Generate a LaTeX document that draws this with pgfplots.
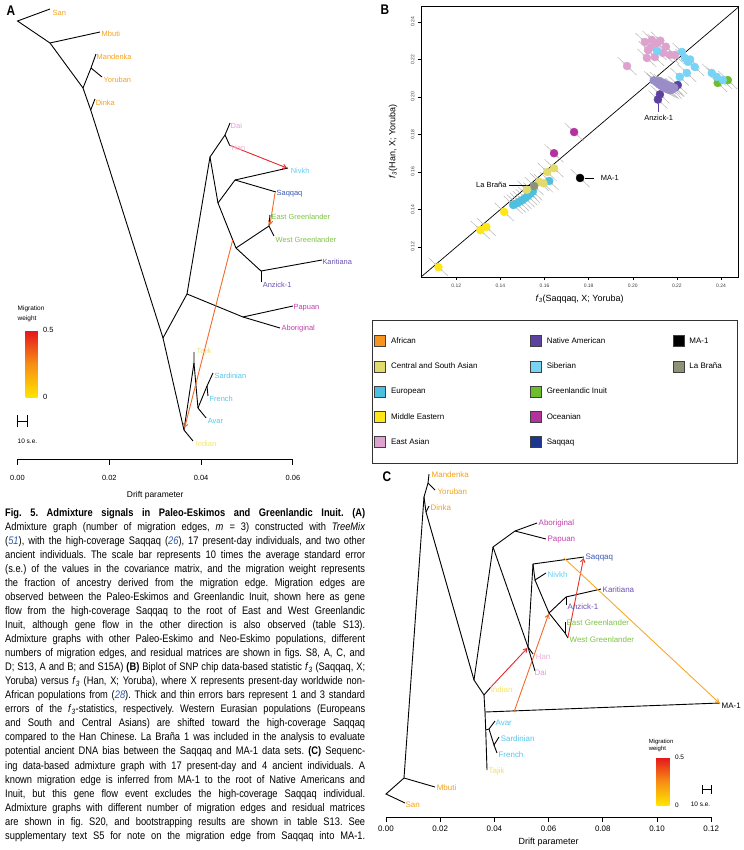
\documentclass[border=0pt]{standalone}
\usepackage{fontspec}
\setmainfont{Liberation Sans}
\newfontfamily\capfont{Liberation Sans}[FakeStretch=0.85]
\usepackage{pgfplots}
\pgfplotsset{compat=1.18}
\usepackage{pgfplotstable}
\usetikzlibrary{arrows.meta}

\definecolor{cAfr}{HTML}{F7941D}
\definecolor{cCSA}{HTML}{E1DB6B}
\definecolor{cEur}{HTML}{4CC0DE}
\definecolor{cME}{HTML}{FFE617}
\definecolor{cEA}{HTML}{DDA3CE}
\definecolor{cNA}{HTML}{5D41A0}
\definecolor{cNAL}{HTML}{9A8CC6}
\definecolor{cSib}{HTML}{79D3F5}
\definecolor{cGI}{HTML}{6DBE2D}
\definecolor{cOce}{HTML}{B3339E}
\definecolor{cSaq}{HTML}{1B3590}
\definecolor{cLB}{HTML}{8C9377}
\definecolor{tAfr}{HTML}{F7A11A}
\definecolor{tDai}{HTML}{DDA0D6}
\definecolor{tHan}{HTML}{F0B2DA}
\definecolor{tSib}{HTML}{6ACCF0}
\definecolor{tSaq}{HTML}{3B58B2}
\definecolor{tGI}{HTML}{7DC242}
\definecolor{tNA}{HTML}{6B52B0}
\definecolor{tOce}{HTML}{C23FAA}
\definecolor{tCSA}{HTML}{EADF78}
\definecolor{tInd}{HTML}{F2E46A}
\definecolor{tEur}{HTML}{55C6EC}
\definecolor{refblue}{HTML}{2B5BA8}
\definecolor{mRed}{HTML}{E4262A}
\definecolor{mOr}{HTML}{F26A2A}
\definecolor{mYe}{HTML}{F5AA2D}

\newcommand\labA{\fontsize{7.5}{8}\selectfont}
\newcommand\labC{\fontsize{8}{9}\selectfont}

\pgfplotsset{
  tedge/.style={black, line width=0.9bp, forget plot, mark=none},
  mig/.style={line width=0.9bp, forget plot, mark=none, -{Straight Barb[length=3.5bp,width=4.5bp]}},
  sq/.style={legend image code/.code={\draw[fill=#1,draw=black!75,line width=0.7bp] (0bp,-5.5bp) rectangle (11bp,5.5bp);}},
  nf/.style={/pgf/number format/fixed, /pgf/number format/fixed zerofill, /pgf/number format/precision=2, /pgf/number format/assume math mode=true},
}

\pgfplotstableread{
x y c
0.1119 0.1093 me
0.1309 0.1290 me
0.1336 0.1307 me
0.1417 0.1387 me
0.1458 0.1424 eur
0.1472 0.1432 eur
0.1486 0.1441 eur
0.1499 0.1450 eur
0.1512 0.1461 eur
0.1524 0.1472 eur
0.1536 0.1484 eur
0.1547 0.1496 eur
0.1621 0.1552 eur
0.1520 0.1505 csa
0.1576 0.1547 csa
0.1595 0.1540 csa
0.1612 0.1600 csa
0.1643 0.1620 csa
0.1553 0.1525 lb
0.1643 0.1700 oce
0.1734 0.1813 oce
0.1761 0.1568 ma
0.1974 0.2165 ea
0.2055 0.2293 ea
0.2087 0.2304 ea
0.2110 0.2288 ea
0.2125 0.2300 ea
0.2069 0.2250 ea
0.2064 0.2208 ea
0.2100 0.2213 ea
0.2137 0.2235 ea
0.2168 0.2224 ea
0.2191 0.2224 ea
0.2085 0.2265 ea
0.2150 0.2268 ea
0.2110 0.2245 sib
0.2385 0.2075 gi
0.2431 0.2090 gi
0.2223 0.2240 sib
0.2236 0.2208 sib
0.2250 0.2187 sib
0.2281 0.2160 sib
0.2260 0.2200 sib
0.2245 0.2128 sib
0.2213 0.2107 sib
0.2358 0.2128 sib
0.2381 0.2107 sib
0.2408 0.2090 sib
0.2204 0.2064 na
0.2192 0.2052 na
0.2123 0.2014 na
0.2114 0.1986 na
0.2095 0.2088 nal
0.2108 0.2078 nal
0.2118 0.2068 nal
0.2128 0.2060 nal
0.2138 0.2052 nal
0.2148 0.2046 nal
0.2158 0.2041 nal
0.2168 0.2036 nal
0.2178 0.2040 nal
0.2120 0.2085 nal
0.2138 0.2075 nal
0.2155 0.2065 nal
0.2172 0.2058 nal
0.2188 0.2050 nal
}\dataB

\begin{document}
\frenchspacing
\begin{tikzpicture}
\path[use as bounding box] (0,0) rectangle (744bp,-850bp);

%================ Panel A =================
\begin{axis}[
  name=A, at={(17.5bp,-459bp)}, anchor=south west,
  scale only axis, width=275.4bp, height=454bp,
  xmin=0, xmax=0.06, ymin=-459, ymax=-5,
  axis y line=none, axis x line*=bottom, clip=false,
  xtick={0,0.02,0.04,0.06}, scaled x ticks=false,
  tick align=outside, major tick length=5.5bp,
  xticklabel style={font=\fontsize{7.5}{8}\selectfont, nf, yshift=-7bp},
  xlabel={Drift parameter}, xlabel style={font=\fontsize{8.5}{9}\selectfont, yshift=-4bp},
  axis line style={line width=0.8bp}, tick style={line width=0.8bp, black},
  colormap={mig}{rgb255=(255,228,0) rgb255=(247,140,20) rgb255=(228,20,28)},
  colorbar, point meta min=0, point meta max=0.5,
  colorbar style={at={(parent axis.south west)}, anchor=north west, xshift=-0.5bp, yshift=129bp,
    width=12bp, height=67bp, scale only axis, ytick={0,0.5}, yticklabels={0,0.5},
    major tick length=0pt, axis line style={draw=none},
    yticklabel style={font=\fontsize{7.5}{8}\selectfont, xshift=2bp}},
]
\addplot[tedge] coordinates {(0.00708,-9) (0,-21) (0.00708,-43) (0.01797,-32)};
\addplot[tedge] coordinates {(0.00708,-43) (0.01427,-88)};
\addplot[tedge] coordinates {(0.01427,-88) (0.01601,-68) (0.0171,-54)};
\addplot[tedge] coordinates {(0.01601,-68) (0.01841,-77)};
\addplot[tedge] coordinates {(0.01427,-88) (0.01595,-110) (0.0317,-338)};
\addplot[tedge] coordinates {(0.01595,-110) (0.01688,-99)};
\addplot[tedge] coordinates {(0.0317,-338) (0.03693,-294) (0.04194,-157)};
\addplot[tedge] coordinates {(0.04194,-157) (0.04521,-135) (0.0463,-123)};
\addplot[tedge] coordinates {(0.04521,-135) (0.0463,-146)};
\addplot[tedge] coordinates {(0.04194,-157) (0.04368,-203) (0.0476,-248)};
\addplot[tedge] coordinates {(0.04368,-203) (0.04739,-180) (0.05893,-168)};
\addplot[tedge] coordinates {(0.04739,-180) (0.05632,-192)};
\addplot[tedge] coordinates {(0.0476,-248) (0.05479,-226) (0.055,-215)};
\addplot[tedge] coordinates {(0.05479,-226) (0.05588,-236)};
\addplot[tedge] coordinates {(0.0476,-248) (0.05305,-271) (0.06634,-260)};
\addplot[tedge] coordinates {(0.05305,-271) (0.05305,-282)};
\addplot[tedge] coordinates {(0.03693,-294) (0.04913,-317) (0.06002,-306)};
\addplot[tedge] coordinates {(0.04913,-317) (0.05719,-328)};
\addplot[tedge] coordinates {(0.0317,-338) (0.03627,-430) (0.03824,-441)};
\addplot[tedge] coordinates {(0.03627,-430) (0.03845,-363) (0.03845,-352)};
\addplot[tedge] coordinates {(0.03845,-363) (0.03932,-408) (0.0411,-418)};
\addplot[tedge] coordinates {(0.03932,-408) (0.04129,-386) (0.04259,-373)};
\addplot[tedge] coordinates {(0.04129,-386) (0.0415,-396)};
% migration edges
\addplot[mig, mRed] coordinates {(0.04608,-145) (0.05871,-168)};
\addplot[mig, mOr] coordinates {(0.05610,-193) (0.05501,-225)};
\addplot[mig, mOr] coordinates {(0.04688,-240) (0.03640,-428)};
% labels
\begin{scope}[every node/.style={anchor=west, inner sep=0.5bp, font=\labA}]
\node[text=tAfr] at (axis cs:0.0075,-13) {San};
\node[text=tAfr] at (axis cs:0.0182,-34) {Mbuti};
\node[text=tAfr] at (axis cs:0.0171,-57) {Mandenka};
\node[text=tAfr] at (axis cs:0.0186,-80) {Yoruban};
\node[text=tAfr] at (axis cs:0.0169,-103) {Dinka};
\node[text=tDai] at (axis cs:0.0463,-126) {Dai};
\node[text=tHan] at (axis cs:0.0465,-148) {Han};
\node[text=tSib] at (axis cs:0.0594,-171) {Nivkh};
\node[text=tSaq] at (axis cs:0.0563,-194) {Saqqaq};
\node[text=tGI] at (axis cs:0.0552,-217) {East Greenlander};
\node[text=tGI] at (axis cs:0.0561,-240) {West Greenlander};
\node[text=tNA] at (axis cs:0.0663,-262) {Karitiana};
\node[text=tNA] at (axis cs:0.0533,-285) {Anzick-1};
\node[text=tOce] at (axis cs:0.0600,-308) {Papuan};
\node[text=tOce] at (axis cs:0.0574,-329) {Aboriginal};
\node[text=tCSA] at (axis cs:0.0389,-352) {Tajik};
\node[text=tEur] at (axis cs:0.0428,-376) {Sardinian};
\node[text=tEur] at (axis cs:0.0417,-399) {French};
\node[text=tEur] at (axis cs:0.0413,-421) {Avar};
\node[text=tInd] at (axis cs:0.0387,-444) {Indian};
\node[font=\fontsize{6.5}{7}\selectfont] at (axis cs:-0.0001,-309) {Migration};
\node[font=\fontsize{6.5}{7}\selectfont] at (axis cs:-0.0001,-319) {weight};
\node[font=\fontsize{6.5}{7}\selectfont] at (axis cs:-0.0001,-441) {10 s.e.};
\end{scope}
\draw[line width=0.8bp] (axis cs:0,-415)--(axis cs:0,-427) (axis cs:0.0021,-415)--(axis cs:0.0021,-427) (axis cs:0,-421)--(axis cs:0.0021,-421);
\end{axis}

%================ Panel B =================
\begin{axis}[
  name=B, at={(421bp,-277bp)}, anchor=south west,
  scale only axis, width=317bp, height=271bp,
  xmin=0.104, xmax=0.2477, ymin=0.104, ymax=0.2485,
  xtick={0.12,0.14,0.16,0.18,0.20,0.22,0.24}, ytick={0.12,0.14,0.16,0.18,0.20,0.22,0.24},
  scaled ticks=false,
  tick align=outside, xtick pos=bottom, ytick pos=left, major tick length=3bp,
  tick style={black, line width=0.5bp},
  ticklabel style={font=\fontsize{5}{6}\selectfont, text=black!75, nf},
  yticklabel style={rotate=90, anchor=south},
  axis line style={line width=0.7bp},
  xlabel={\textit{f}\textsubscript{\textit{3}}(Saqqaq, X; Yoruba)},
  ylabel={\textit{f}\textsubscript{\textit{3}}(Han, X; Yoruba)},
  xlabel style={font=\fontsize{9}{10}\selectfont, at={(axis description cs:0.5,-0.081)}, anchor=center},
  ylabel style={font=\fontsize{9}{10}\selectfont, at={(axis description cs:-0.088,0.5)}, anchor=center},
  legend columns=3, legend cell align=left,
  legend style={at={(axis description cs:-0.1546,-0.1587)}, anchor=north west, draw=black!80, line width=0.8bp,
    font=\fontsize{8}{9}\selectfont, inner xsep=2bp, inner ysep=15bp, /tikz/row sep=13.5bp, /tikz/column sep=0bp,
    nodes={inner sep=2bp}},
]
\addplot[forget plot, black, line width=0.7bp] coordinates {(0.1,0.1) (0.25,0.25)};
\addplot[forget plot, draw=black!30, line width=0.45bp, quiver={u=0.0086, v=-0.0096}]
  table[x expr=\thisrow{x}-0.0043, y expr=\thisrow{y}+0.0048]{\dataB};
\addplot[forget plot, scatter, only marks, mark=*, mark size=4bp, point meta=explicit symbolic,
  scatter/classes={
    me={draw=cME, fill=cME}, eur={draw=cEur, fill=cEur}, csa={draw=cCSA, fill=cCSA},
    lb={draw=cLB, fill=cLB}, oce={draw=cOce, fill=cOce}, ma={draw=black, fill=black},
    ea={draw=cEA, fill=cEA}, sib={draw=cSib, fill=cSib}, gi={draw=cGI, fill=cGI},
    na={draw=cNA, fill=cNA}, nal={draw=cNAL, fill=cNAL}}]
  table[meta=c]{\dataB};
\addplot[forget plot, draw=black!25, opacity=0.75, line width=1.5bp, quiver={u=0.0034, v=-0.0038}]
  table[x expr=\thisrow{x}-0.0017, y expr=\thisrow{y}+0.0019]{\dataB};
\draw[line width=0.6bp] (axis cs:0.1784,0.1568)--(axis cs:0.1826,0.1568);
\node[anchor=west, inner sep=0.5bp, font=\fontsize{7.5}{8}\selectfont] at (axis cs:0.1852,0.1568) {MA-1};
\draw[line width=0.6bp] (axis cs:0.1440,0.1531)--(axis cs:0.1535,0.1531);
\node[anchor=east, inner sep=0.5bp, font=\fontsize{7.5}{8}\selectfont] at (axis cs:0.1431,0.1531) {La Braña};
\draw[line width=0.8bp, cNA] (axis cs:0.2117,0.1963)--(axis cs:0.2117,0.1922);
\node[inner sep=0.5bp, font=\fontsize{7.5}{8}\selectfont] at (axis cs:0.2117,0.1888) {Anzick-1};
% legend (row-wise, 3 columns)
\addlegendimage{sq=cAfr}\addlegendentry{\hspace{3bp}\makebox[137bp][l]{African}}
\addlegendimage{sq=cNA}\addlegendentry{\hspace{3bp}\makebox[124bp][l]{Native American}}
\addlegendimage{sq=black}\addlegendentry{\hspace{3bp}\makebox[44bp][l]{MA-1}}
\addlegendimage{sq=cCSA}\addlegendentry{\hspace{3bp}\makebox[137bp][l]{Central and South Asian}}
\addlegendimage{sq=cSib}\addlegendentry{\hspace{3bp}\makebox[124bp][l]{Siberian}}
\addlegendimage{sq=cLB}\addlegendentry{\hspace{3bp}\makebox[44bp][l]{La Braña}}
\addlegendimage{sq=cEur}\addlegendentry{\hspace{3bp}\makebox[137bp][l]{European}}
\addlegendimage{sq=cGI}\addlegendentry{\hspace{3bp}\makebox[124bp][l]{Greenlandic Inuit}}
\addlegendimage{empty legend}\addlegendentry{}
\addlegendimage{sq=cME}\addlegendentry{\hspace{3bp}\makebox[137bp][l]{Middle Eastern}}
\addlegendimage{sq=cOce}\addlegendentry{\hspace{3bp}\makebox[124bp][l]{Oceanian}}
\addlegendimage{empty legend}\addlegendentry{}
\addlegendimage{sq=cEA}\addlegendentry{\hspace{3bp}\makebox[137bp][l]{East Asian}}
\addlegendimage{sq=cSaq}\addlegendentry{\hspace{3bp}\makebox[124bp][l]{Saqqaq}}
\end{axis}

%================ Panel C =================
\begin{axis}[
  name=C, at={(386bp,-817bp)}, anchor=south west,
  scale only axis, width=325.2bp, height=352bp,
  xmin=0, xmax=0.12, ymin=-817, ymax=-465,
  axis y line=none, axis x line*=bottom, clip=false,
  xtick={0,0.02,0.04,0.06,0.08,0.10,0.12}, scaled x ticks=false,
  tick align=outside, major tick length=5bp,
  xticklabel style={font=\fontsize{8}{9}\selectfont, nf},
  xlabel={Drift parameter}, xlabel style={font=\fontsize{9}{10}\selectfont},
  axis line style={line width=0.8bp}, tick style={line width=0.8bp, black},
  colormap={mig}{rgb255=(255,228,0) rgb255=(247,140,20) rgb255=(228,20,28)},
  colorbar, point meta min=0, point meta max=0.5,
  colorbar style={at={(parent axis.south west)}, anchor=north west, xshift=262bp, yshift=60bp,
    width=13bp, height=48bp, scale only axis, ytick={0,0.5}, yticklabels={0,0.5},
    major tick length=0pt, axis line style={draw=none},
    yticklabel style={font=\fontsize{6.5}{7}\selectfont, xshift=2bp}},
]
\addplot[tedge] coordinates {(0.00701,-803) (0,-794) (0.00664,-778) (0.01808,-787)};
\addplot[tedge] coordinates {(0.00664,-778) (0.01402,-497)};
\addplot[tedge] coordinates {(0.01402,-497) (0.0155,-483) (0.01587,-474)};
\addplot[tedge] coordinates {(0.0155,-483) (0.01808,-490)};
\addplot[tedge] coordinates {(0.01402,-497) (0.01476,-512) (0.03247,-680)};
\addplot[tedge] coordinates {(0.01476,-512) (0.01587,-506)};
\addplot[tedge] coordinates {(0.03247,-680) (0.03948,-547) (0.0476,-531) (0.05572,-523)};
\addplot[tedge] coordinates {(0.0476,-531) (0.05904,-539)};
\addplot[tedge] coordinates {(0.03948,-547) (0.05240,-647)};
\addplot[tedge] coordinates {(0.05240,-647) (0.05424,-564) (0.07306,-557)};
\addplot[tedge] coordinates {(0.05424,-564) (0.05498,-580) (0.05904,-573)};
\addplot[tedge] coordinates {(0.05498,-580) (0.06015,-613) (0.06642,-597) (0.07934,-589)};
\addplot[tedge] coordinates {(0.06642,-597) (0.06642,-605)};
\addplot[tedge] coordinates {(0.06015,-613) (0.06605,-633) (0.06716,-638)};
\addplot[tedge] coordinates {(0.06605,-633) (0.06605,-622)};
\addplot[tedge] coordinates {(0.05240,-647) (0.05424,-654)};
\addplot[tedge] coordinates {(0.05240,-647) (0.05498,-671)};
\addplot[tedge] coordinates {(0.03247,-680) (0.03616,-695) (0.03838,-688)};
\addplot[tedge] coordinates {(0.03616,-695) (0.03653,-712) (0.12325,-703)};
\addplot[tedge] coordinates {(0.03653,-712) (0.03680,-730) (0.03727,-770)};
\addplot[tedge] coordinates {(0.03680,-730) (0.03801,-729) (0.04022,-721)};
\addplot[tedge] coordinates {(0.03801,-729) (0.03985,-745) (0.0417,-737)};
\addplot[tedge] coordinates {(0.03985,-745) (0.04096,-753)};
% migration edges
\addplot[mig, mRed] coordinates {(0.03838,-688) (0.0522,-648)};
\addplot[mig, mOr] coordinates {(0.04723,-712) (0.06000,-614)};
\addplot[mig, mRed!85!orange] coordinates {(0.06716,-637) (0.07290,-558)};
\addplot[mig, mYe] coordinates {(0.06568,-558) (0.12300,-703)};
\begin{scope}[every node/.style={anchor=west, inner sep=0.5bp, font=\labC}]
\node[text=tAfr] at (axis cs:0.0166,-475) {Mandenka};
\node[text=tAfr] at (axis cs:0.0188,-492) {Yoruban};
\node[text=tAfr] at (axis cs:0.0162,-508) {Dinka};
\node[text=tOce] at (axis cs:0.0561,-523) {Aboriginal};
\node[text=tOce] at (axis cs:0.0594,-540) {Papuan};
\node[text=tSaq] at (axis cs:0.0734,-558) {Saqqaq};
\node[text=tSib] at (axis cs:0.0594,-575) {Nivkh};
\node[text=tNA] at (axis cs:0.0797,-590) {Karitiana};
\node[text=tNA] at (axis cs:0.0668,-607) {Anzick-1};
\node[text=tGI] at (axis cs:0.0664,-623) {East Greenlander};
\node[text=tGI] at (axis cs:0.0675,-640) {West Greenlander};
\node[text=tHan] at (axis cs:0.0550,-657) {Han};
\node[text=tDai] at (axis cs:0.0546,-673) {Dai};
\node[text=tInd] at (axis cs:0.0384,-690) {Indian};
\node[text=black] at (axis cs:0.1236,-706) {MA-1};
\node[text=tEur] at (axis cs:0.0402,-723) {Avar};
\node[text=tEur] at (axis cs:0.0421,-739) {Sardinian};
\node[text=tEur] at (axis cs:0.0413,-755) {French};
\node[text=tCSA] at (axis cs:0.0376,-771) {Tajik};
\node[text=tAfr] at (axis cs:0.0185,-788) {Mbuti};
\node[text=tAfr] at (axis cs:0.0070,-805) {San};
\node[font=\fontsize{6}{7}\selectfont] at (axis cs:0.0967,-742) {Migration};
\node[font=\fontsize{6}{7}\selectfont] at (axis cs:0.0967,-749) {weight};
\node[anchor=east, font=\fontsize{6.5}{7}\selectfont] at (axis cs:0.1199,-804) {10 s.e.};
\end{scope}
\draw[line width=0.8bp] (axis cs:0.1166,-785)--(axis cs:0.1166,-794) (axis cs:0.1199,-785)--(axis cs:0.1199,-794) (axis cs:0.1166,-789.5)--(axis cs:0.1199,-789.5);
\end{axis}

%================ Panel letters and caption =================
\node[font=\capfont\fontsize{14}{14}\bfseries\selectfont] at (11bp,-11bp) {A};
\node[font=\capfont\fontsize{14}{14}\bfseries\selectfont] at (385bp,-10bp) {B};
\node[font=\capfont\fontsize{14}{14}\bfseries\selectfont] at (387bp,-477bp) {C};

\node[anchor=north west, inner sep=0pt, align=left, font=\capfont\fontsize{11}{14.1}\selectfont] at (5bp,-508bp) {%
\makebox[360bp][s]{\textbf{Fig. 5. Admixture signals in Paleo-Eskimos and Greenlandic Inuit.} \textbf{(A)}}\\
\makebox[360bp][s]{Admixture graph (number of migration edges, \textit{m} = 3) constructed with \textit{TreeMix}}\\
\makebox[360bp][s]{(\textcolor{refblue}{\textit{51}}), with the high-coverage Saqqaq (\textcolor{refblue}{\textit{26}}), 17 present-day individuals, and two other}\\
\makebox[360bp][s]{ancient individuals. The scale bar represents 10 times the average standard error}\\
\makebox[360bp][s]{(s.e.) of the values in the covariance matrix, and the migration weight represents}\\
\makebox[360bp][s]{the fraction of ancestry derived from the migration edge. Migration edges are}\\
\makebox[360bp][s]{observed between the Paleo-Eskimos and Greenlandic Inuit, shown here as gene}\\
\makebox[360bp][s]{flow from the high-coverage Saqqaq to the root of East and West Greenlandic}\\
\makebox[360bp][s]{Inuit, although gene flow in the other direction is also observed (table S13).}\\
\makebox[360bp][s]{Admixture graphs with other Paleo-Eskimo and Neo-Eskimo populations, different}\\
\makebox[360bp][s]{numbers of migration edges, and residual matrices are shown in figs. S8, A, C, and}\\
\makebox[360bp][s]{D; S13, A and B; and S15A) \textbf{(B)} Biplot of SNP chip data-based statistic \textit{f}\textsubscript{\textit{3}} (Saqqaq, X;}\\
\makebox[360bp][s]{Yoruba) versus \textit{f}\textsubscript{\textit{3}} (Han, X; Yoruba), where X represents present-day worldwide non-}\\
\makebox[360bp][s]{African populations from (\textcolor{refblue}{\textit{28}}). Thick and thin errors bars represent 1 and 3 standard}\\
\makebox[360bp][s]{errors of the \textit{f}\textsubscript{\textit{3}}-statistics, respectively. Western Eurasian populations (Europeans}\\
\makebox[360bp][s]{and South and Central Asians) are shifted toward the high-coverage Saqqaq}\\
\makebox[360bp][s]{compared to the Han Chinese. La Braña 1 was included in the analysis to evaluate}\\
\makebox[360bp][s]{potential ancient DNA bias between the Saqqaq and MA-1 data sets. \textbf{(C)} Sequenc-}\\
\makebox[360bp][s]{ing data-based admixture graph with 17 present-day and 4 ancient individuals. A}\\
\makebox[360bp][s]{known migration edge is inferred from MA-1 to the root of Native Americans and}\\
\makebox[360bp][s]{Inuit, but this gene flow event excludes the high-coverage Saqqaq individual.}\\
\makebox[360bp][s]{Admixture graphs with different number of migration edges and residual matrices}\\
\makebox[360bp][s]{are shown in fig. S20, and bootstrapping results are shown in table S13. See}\\
\makebox[360bp][s]{supplementary text S5 for note on the migration edge from Saqqaq into MA-1.}};
\end{tikzpicture}
\end{document}
